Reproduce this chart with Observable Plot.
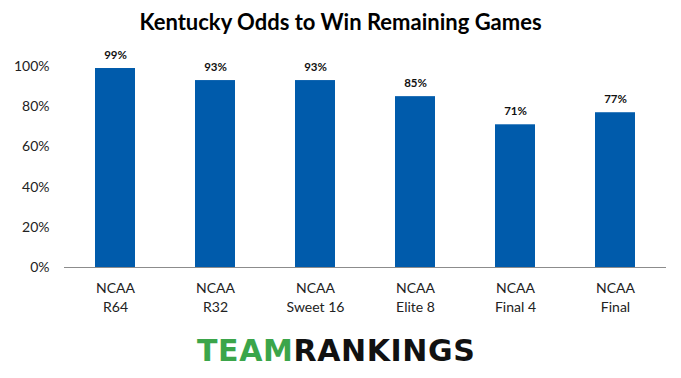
<!DOCTYPE html>
<html>
<head>
<meta charset="utf-8">
<script src="https://cdn.jsdelivr.net/npm/d3@7"></script>
<script src="https://cdn.jsdelivr.net/npm/@observablehq/plot@0.6"></script>
<style>
  html, body { margin: 0; padding: 0; background: #fff; }
  #wrap { position: relative; width: 681px; height: 378px; overflow: hidden; }
  #title { position: absolute; top: 8px; left: 0; width: 681px; text-align: center;
    font-family: Lato, "Open Sans", sans-serif; font-weight: 700; font-size: 22px; color: #000; }
  #chart { position: absolute; top: 0; left: 0; }
  #logo { position: absolute; top: 336px; left: 197px; width: 290px; text-align: left;
    font-family: "DejaVu Sans", sans-serif; font-weight: 700; font-size: 30px; line-height: 30px;
    letter-spacing: 0.6px; white-space: nowrap; }
  #logo .g { color: #3ba54a; }
  #logo .k { color: #111; }
</style>
</head>
<body>
<div id="wrap">
  <div id="title">Kentucky Odds to Win Remaining Games</div>
  <div id="chart"></div>
  <div id="logo"><span class="g">TEAM</span><span class="k">RANKINGS</span></div>
</div>
<script>
const categories = ["NCAA\nR64", "NCAA\nR32", "NCAA\nSweet 16", "NCAA\nElite 8", "NCAA\nFinal 4", "NCAA\nFinal"];
const odds = [99, 93, 93, 85, 71, 77];
const yTicks = [0, 20, 40, 60, 80, 100];

const data = categories.map((c, i) => ({game: c, value: odds[i]}));

const chart = Plot.plot({
  width: 681,
  height: 378,
  marginTop: 66,
  marginBottom: 111,
  marginLeft: 64,
  marginRight: 15,
  style: {fontFamily: "Lato, 'Open Sans', sans-serif", fontSize: "14px", color: "#222", background: "transparent"},
  x: {domain: categories, paddingInner: 0.6, paddingOuter: 0.3, label: null, tickSize: 0},
  y: {domain: [0, 100], ticks: yTicks, tickFormat: d => d + "%", label: null, tickSize: 0},
  marks: [
    Plot.axisY({ticks: yTicks, tickFormat: d => d + "%", tickSize: 0, tickPadding: 15, label: null, fontSize: 14}),
    Plot.axisX({tickSize: 0, tickPadding: 12, label: null, fontSize: 14, lineHeight: 1.35}),
    Plot.barY(data, {x: "game", y: "value", fill: "#005BAB"}),
    Plot.ruleY([0], {stroke: "#8c8c8c", strokeWidth: 1.2}),
    Plot.text(data, {x: "game", y: "value", text: d => d.value + "%", dy: -13, fontWeight: "bold", fontSize: 11.5, fill: "#111"})
  ]
});
document.getElementById("chart").appendChild(chart);
</script>
</body>
</html>
